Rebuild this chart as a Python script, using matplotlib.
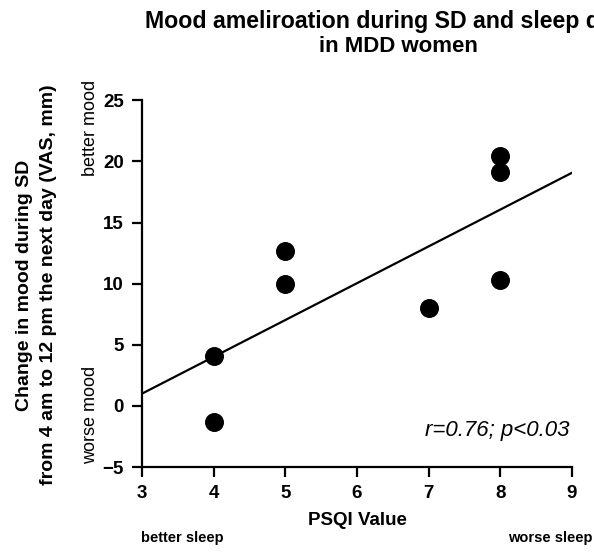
import numpy as np
import matplotlib.pyplot as plt

# PSQI values and mood change (VAS, mm)
psqi = [4, 4, 5, 5, 7, 8, 8, 8]
mood_change = [4.1, -1.3, 12.7, 10.0, 8.0, 20.4, 19.1, 10.3]

x_ticks = [3, 4, 5, 6, 7, 8, 9]
y_ticks = [-5, 0, 5, 10, 15, 20, 25]
stats_text = 'r=0.76; p<0.03'

plt.rcParams['font.family'] = ['Liberation Sans', 'DejaVu Sans']

fig = plt.figure(figsize=(5.94, 5.6), dpi=100)
ax = fig.add_axes([0.239, 0.166, 0.724, 0.655])

# Regression line over full x range
slope, intercept = np.polyfit(psqi, mood_change, 1)
xl = np.array([x_ticks[0], x_ticks[-1]])
ax.plot(xl, slope * xl + intercept, color='black', lw=1.6, zorder=2)

ax.scatter(psqi, mood_change, s=160, color='black', zorder=3, clip_on=False)

ax.set_xlim(3, 9)
ax.set_ylim(-5, 25)
ax.set_xticks(x_ticks)
ax.set_yticks(y_ticks)
for s in ['top', 'right']:
    ax.spines[s].set_visible(False)
for s in ['left', 'bottom']:
    ax.spines[s].set_linewidth(1.6)
ax.tick_params(direction='out', length=7, width=1.6, labelsize=13.5, pad=6)
for lab in ax.get_xticklabels() + ax.get_yticklabels():
    lab.set_fontweight('bold')

ax.set_xlabel('PSQI Value', fontsize=13.5, fontweight='bold', labelpad=7)

ax.text(8.97, -2.0, stats_text, fontsize=16, style='italic', ha='right', va='center')

# title runs off the right edge of the figure, as in the original
fig.text(0.244, 0.982, 'Mood ameliroation during SD and sleep quality',
         fontsize=16.7, fontweight='bold', ha='left', va='top')
fig.text(0.67, 0.935, 'in MDD women',
         fontsize=16, fontweight='bold', ha='center', va='top')

fig.text(0.042, 0.491, 'Change in mood during SD', fontsize=14, fontweight='bold',
         rotation=90, ha='center', va='center')
fig.text(0.082, 0.491, 'from 4 am to 12 pm the next day (VAS, mm)', fontsize=14,
         fontweight='bold', rotation=90, ha='center', va='center')

fig.text(0.152, 0.771, 'better mood', fontsize=13, rotation=90, ha='center', va='center')
fig.text(0.152, 0.259, 'worse mood', fontsize=13, rotation=90, ha='center', va='center')

fig.text(0.238, 0.04, 'better sleep', fontsize=10.5, fontweight='bold', ha='left', va='center')
fig.text(0.998, 0.04, 'worse sleep', fontsize=10.5, fontweight='bold', ha='right', va='center')

fig.savefig('out.png', dpi=100)
